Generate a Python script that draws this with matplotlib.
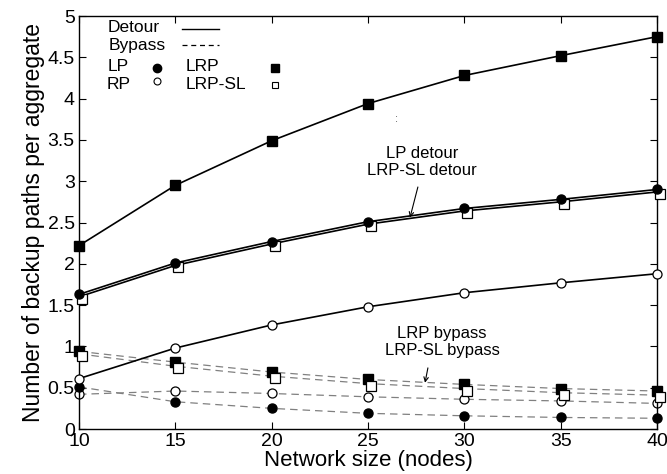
import matplotlib
matplotlib.use("Agg")
import matplotlib.pyplot as plt
from matplotlib.transforms import ScaledTranslation

plt.rcParams['font.family'] = ['Liberation Sans', 'DejaVu Sans']

# Network sizes (nodes)
sizes = [10, 15, 20, 25, 30, 35, 40]

# Detour backup paths per aggregate
lp_detour = [1.63, 2.01, 2.27, 2.51, 2.67, 2.78, 2.90]
rp_detour = [0.61, 0.98, 1.26, 1.48, 1.65, 1.77, 1.88]
lrp_detour = [2.22, 2.95, 3.49, 3.94, 4.28, 4.52, 4.75]
lrpsl_detour = [1.60, 1.98, 2.24, 2.48, 2.64, 2.75, 2.87]

# Bypass backup paths per aggregate
lp_bypass = [0.51, 0.33, 0.25, 0.19, 0.16, 0.14, 0.13]
rp_bypass = [0.42, 0.46, 0.43, 0.39, 0.36, 0.34, 0.31]
lrp_bypass = [0.94, 0.81, 0.69, 0.60, 0.54, 0.49, 0.46]
lrpsl_bypass = [0.91, 0.76, 0.64, 0.55, 0.49, 0.44, 0.41]

xticks = [10, 15, 20, 25, 30, 35, 40]
yticks = [0, 0.5, 1, 1.5, 2, 2.5, 3, 3.5, 4, 4.5, 5]
ytick_labels = ['0', '0.5', '1', '1.5', '2', '2.5', '3', '3.5', '4', '4.5', '5']

fig = plt.figure(figsize=(6.67, 4.74), dpi=100)
ax = fig.add_axes([0.1184, 0.0949, 0.8666, 0.8713])

# small rightward shift for the LRP-SL markers
shift = ax.transData + ScaledTranslation(3 / 100, -2 / 100, fig.dpi_scale_trans)

solid = dict(color='black', lw=1.2, clip_on=False, zorder=3)
dashed = dict(color='#808080', lw=0.9, ls=(0, (6, 4)), clip_on=False, zorder=2)
ms = 6.5

# Bypass curves
ax.plot(sizes, rp_bypass, marker='o', ms=ms, mfc='white', mec='black', mew=0.9, **dashed)
ax.plot(sizes, lp_bypass, marker='o', ms=ms, mfc='black', mec='black', **dashed)
ax.plot(sizes, lrpsl_bypass, ls=(0, (6, 4)), color='#808080', lw=0.9, clip_on=False, zorder=2)
ax.plot(sizes, lrpsl_bypass, ls='none', marker='s', ms=ms, mfc='white', mec='black', mew=0.9,
        clip_on=False, zorder=3, transform=shift)
ax.plot(sizes, lrp_bypass, marker='s', ms=ms, mfc='black', mec='black', **dashed)

# Detour curves
ax.plot(sizes, rp_detour, marker='o', ms=ms, mfc='white', mec='black', mew=0.9, **solid)
ax.plot(sizes, lrpsl_detour, **solid)
ax.plot(sizes, lrpsl_detour, ls='none', marker='s', ms=ms, mfc='white', mec='black', mew=0.9,
        clip_on=False, zorder=3, transform=shift)
ax.plot(sizes, lp_detour, marker='o', ms=ms, mfc='black', mec='black', **solid)
ax.plot(sizes, lrp_detour, marker='s', ms=ms, mfc='black', mec='black', **solid)

ax.set_xlim(10, 40)
ax.set_ylim(0, 5)
ax.set_xticks(xticks)
ax.set_yticks(yticks)
ax.set_yticklabels(ytick_labels)
ax.tick_params(direction='in', length=5, width=0.8, top=True, right=True,
               labelsize=14, pad=3, colors='black')
for s in ax.spines.values():
    s.set_linewidth(1.0)

ax.set_xlabel('Network size (nodes)', fontsize=16, labelpad=0)
ax.set_ylabel('Number of backup paths per aggregate', fontsize=16.5, labelpad=2)

# Key in the upper left corner
ta = ax.transAxes
key_fs = 12.5
ax.text(0.050, 0.971, 'Detour', transform=ta, fontsize=key_fs, va='center', ha='left')
ax.plot([0.178, 0.242], [0.969, 0.969], transform=ta, color='black', lw=1.0)
ax.text(0.052, 0.929, 'Bypass', transform=ta, fontsize=key_fs, va='center', ha='left')
ax.plot([0.178, 0.242], [0.931, 0.931], transform=ta, color='black', lw=0.9, ls=(0, (4, 3)))
ax.text(0.050, 0.877, 'LP', transform=ta, fontsize=key_fs, va='center', ha='left')
ax.plot([0.135], [0.874], transform=ta, marker='o', ms=6, mfc='black', mec='black', ls='none')
ax.text(0.047, 0.835, 'RP', transform=ta, fontsize=key_fs, va='center', ha='left')
ax.plot([0.135], [0.843], transform=ta, marker='o', ms=5, mfc='white', mec='black', mew=0.8, ls='none')
ax.text(0.185, 0.877, 'LRP', transform=ta, fontsize=key_fs, va='center', ha='left')
ax.plot([0.339], [0.874], transform=ta, marker='s', ms=6, mfc='black', mec='black', ls='none')
ax.text(0.185, 0.835, 'LRP-SL', transform=ta, fontsize=key_fs, va='center', ha='left')
ax.plot([0.339], [0.833], transform=ta, marker='s', ms=5, mfc='white', mec='black', mew=0.8, ls='none')

# Curve annotations
ann_fs = 12
arrow = dict(arrowstyle='->', color='black', lw=0.8, shrinkA=0, shrinkB=0,
             mutation_scale=8)
ax.text(27.8, 3.23, 'LP detour\nLRP-SL detour', fontsize=ann_fs, ha='center',
        va='center', linespacing=1.15)
ax.annotate('', xy=(27.18, 2.56), xytext=(27.59, 2.93), arrowprops=arrow)
ax.text(28.85, 1.05, 'LRP bypass\nLRP-SL bypass', fontsize=ann_fs, ha='center',
        va='center', linespacing=1.15)
ax.annotate('', xy=(27.96, 0.56), xytext=(28.11, 0.74), arrowprops=arrow)
ax.text(26.5, 3.75, ':', fontsize=8, color='#555555', ha='center', va='center')

fig.savefig('out.png', dpi=100)
